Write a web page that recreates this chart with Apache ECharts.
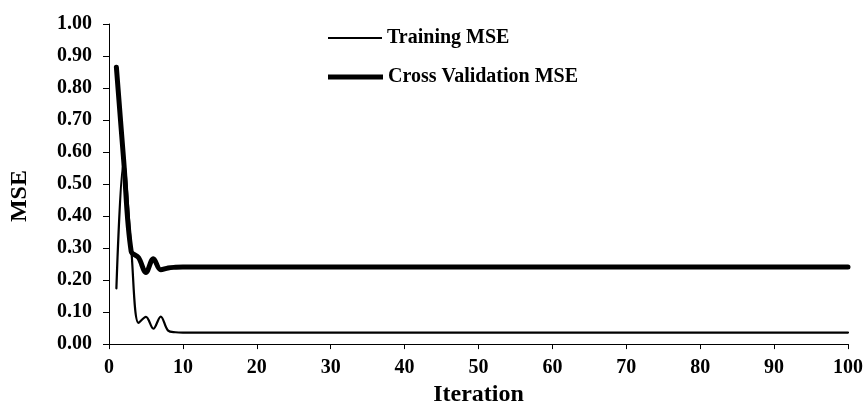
<!DOCTYPE html>
<html>
<head>
<meta charset="utf-8">
<script src="https://cdn.jsdelivr.net/npm/echarts@6/dist/echarts.min.js"></script>
<style>
html,body{margin:0;padding:0;background:#fff;}
#chart{width:866px;height:412px;}
</style>
</head>
<body>
<div id="chart"></div>
<script>
var iterations = [1,2,3,4,5,6,7,8,9,10,11,12,13,14,15,20,30,40,50,60,70,80,90,100];
var trainingMSE = [0.174,0.57,0.30,0.066,0.085,0.048,0.086,0.042,0.037,0.036,0.036,0.036,0.036,0.036,0.036,0.036,0.036,0.036,0.036,0.036,0.036,0.036,0.036,0.036];
var cvMSE = [0.865,0.57,0.29,0.27,0.224,0.267,0.232,0.238,0.240,0.241,0.241,0.241,0.241,0.241,0.241,0.241,0.241,0.241,0.241,0.241,0.241,0.241,0.241,0.241];
var seriesNames = ['Training MSE','Cross Validation MSE'];

function pairs(xs, ys){ return xs.map(function(x,i){ return [x, ys[i]]; }); }

var font = '"Liberation Serif","Times New Roman",serif';
var legendText = {fontFamily:font, fontWeight:'bold', fontSize:20, color:'#000'};
var chart = echarts.init(document.getElementById('chart'), null, {renderer:'canvas'});
chart.setOption({
  animation:false,
  backgroundColor:'#ffffff',
  grid:{left:108, right:15, top:24, bottom:62, containLabel:false},
  legend:[
    {left:328, top:28, padding:0, itemWidth:54, itemHeight:2, icon:'rect', selectedMode:false,
     data:[seriesNames[0]], textStyle:legendText},
    {left:328, top:67, padding:0, itemWidth:55, itemHeight:5, icon:'rect', selectedMode:false,
     data:[seriesNames[1]], textStyle:legendText}
  ],
  xAxis:{
    type:'value', min:0, max:100, interval:10,
    name:'Iteration', nameLocation:'middle', nameGap:38,
    nameTextStyle:{fontFamily:font, fontWeight:'bold', fontSize:24, color:'#000'},
    axisLine:{onZero:false, lineStyle:{color:'#000', width:1}},
    axisTick:{show:true, length:5, lineStyle:{color:'#000'}},
    axisLabel:{fontFamily:font, fontWeight:'bold', fontSize:20, color:'#000', margin:14},
    splitLine:{show:false}
  },
  yAxis:{
    type:'value', min:0, max:1, interval:0.1,
    name:'MSE', nameLocation:'middle', nameGap:77, nameRotate:90,
    nameTextStyle:{fontFamily:font, fontWeight:'bold', fontSize:24, color:'#000', padding:[0,24,0,0]},
    axisLine:{show:true, lineStyle:{color:'#000', width:1}},
    axisTick:{show:true, length:6, lineStyle:{color:'#000'}},
    axisLabel:{fontFamily:font, fontWeight:'bold', fontSize:20, color:'#000', margin:17,
      formatter:function(v){ return v.toFixed(2); }},
    splitLine:{show:false}
  },
  series:[
    {name:seriesNames[0], type:'line', data:pairs(iterations, trainingMSE), smooth:0.35,
     showSymbol:false, symbol:'none', lineStyle:{color:'#000', width:2.2, cap:'round', join:'round'}, itemStyle:{color:'#000'}, z:3},
    {name:seriesNames[1], type:'line', data:pairs(iterations, cvMSE), smooth:0.35,
     showSymbol:false, symbol:'none', lineStyle:{color:'#000', width:5, cap:'round', join:'round'}, itemStyle:{color:'#000'}, z:2}
  ]
});
</script>
</body>
</html>
